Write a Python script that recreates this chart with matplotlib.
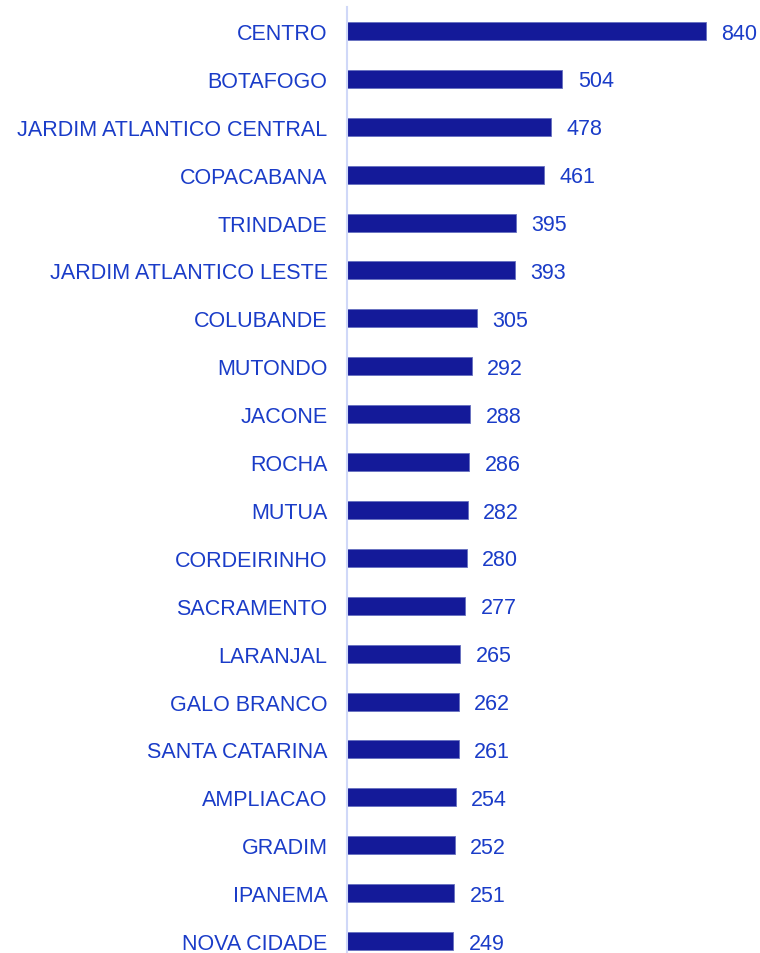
import matplotlib
matplotlib.use('Agg')
import matplotlib.pyplot as plt

bairros = ['CENTRO', 'BOTAFOGO', 'JARDIM ATLANTICO CENTRAL', 'COPACABANA', 'TRINDADE',
           'JARDIM ATLANTICO LESTE', 'COLUBANDE', 'MUTONDO', 'JACONE', 'ROCHA', 'MUTUA',
           'CORDEIRINHO', 'SACRAMENTO', 'LARANJAL', 'GALO BRANCO', 'SANTA CATARINA',
           'AMPLIACAO', 'GRADIM', 'IPANEMA', 'NOVA CIDADE']
valores = [840, 504, 478, 461, 395, 393, 305, 292, 288, 286, 282, 280, 277, 265, 262,
           261, 254, 252, 251, 249]

BAR = '#141a99'
TXT = '#1a3cc8'

plt.rcParams['font.family'] = ['Liberation Sans', 'DejaVu Sans']

fig = plt.figure(figsize=(7.6, 9.54), dpi=100)
ax = fig.add_axes([347 / 760, 0, 413 / 760, 946 / 954])

pos = list(range(len(bairros)))
ax.barh(pos, valores, height=0.375, color=BAR, edgecolor='#6670c0', linewidth=0.6)

# rótulos de valor à direita das barras
for p, v in zip(pos, valores):
    ax.annotate(str(v), (v, p), xytext=(11, -1.5), textcoords='offset points',
                va='center', ha='left', color=TXT, fontsize=15.5)

ax.set_yticks(pos)
ax.set_yticklabels(bairros, color=TXT, fontsize=15.5)
ax.tick_params(axis='y', length=0, pad=14)
ax.set_xticks([])
ax.set_xlim(0, 966)
ax.set_ylim(19.25, -0.5)

for s in ['top', 'right', 'bottom']:
    ax.spines[s].set_visible(False)
ax.spines['left'].set_color('#d0d8f8')
ax.spines['left'].set_linewidth(1.5)

fig.savefig('out.png', dpi=100)
